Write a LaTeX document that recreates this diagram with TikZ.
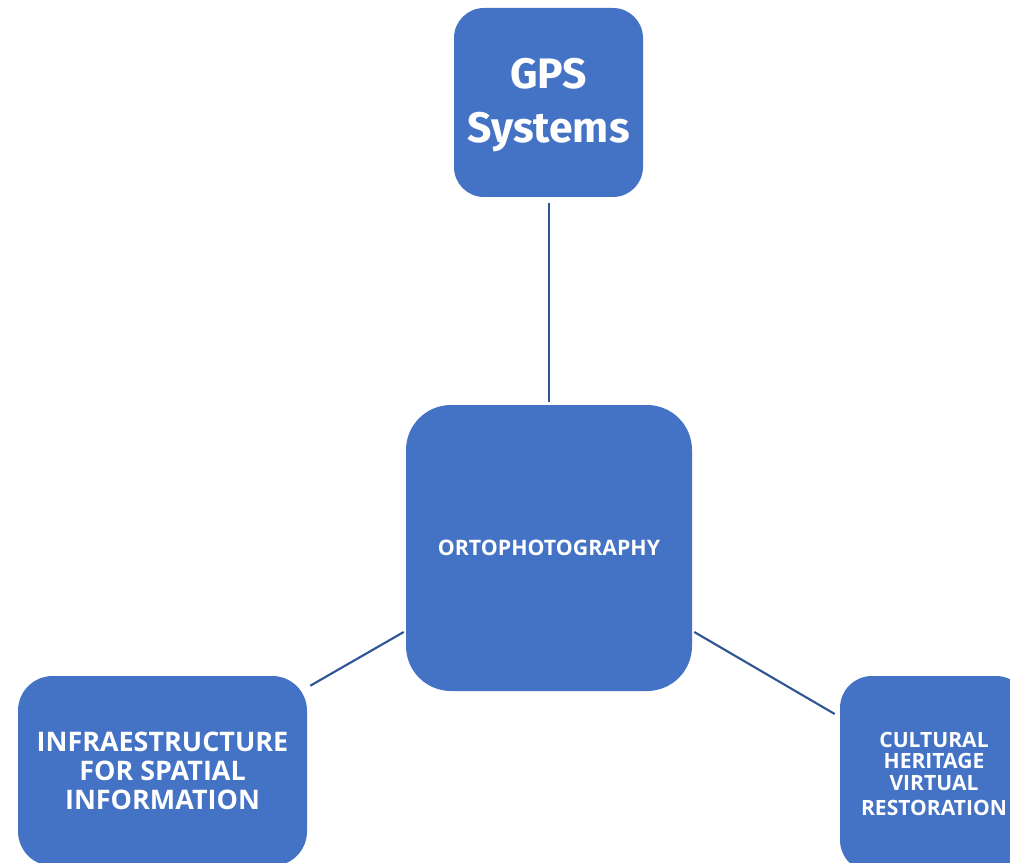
\documentclass[tikz,border=0pt]{standalone}
\usepackage{fontspec}
\setmainfont{Open Sans}
\newfontfamily\gpsfont{Fira Sans}
\definecolor{boxblue}{HTML}{4472C4}
\definecolor{lineblue}{HTML}{2F5597}
\begin{document}
\begin{tikzpicture}[x=0.75pt,y=-0.75pt,
  box/.style={fill=boxblue, draw=none, inner sep=0pt, text=white, align=center, font=\bfseries},
  link/.style={draw=lineblue, line width=1.6pt}]
\useasboundingbox (0,0) rectangle (1010,863);
\clip (0,0) rectangle (1010,863);
\node[box, minimum width=141.75pt, minimum height=141.75pt, rounded corners=22.5pt] (gps) at (548.5,102.5) {};
\node[text=white, align=center, inner sep=0pt, font=\gpsfont\bfseries\fontsize{32}{41}\selectfont] (gpstext) at ([shift={(0,2.5)}]gps.center) {GPS\\Systems};
\node[box, minimum width=214.5pt, minimum height=214.5pt, rounded corners=33.75pt,
  font=\bfseries\fontsize{16}{18}\selectfont] (ctr) at (549,548) {ORTOPHOTOGRAPHY};
\node[box, minimum width=216.75pt, minimum height=142.5pt, rounded corners=26pt,
  font=\bfseries\fontsize{20.2}{21.8}\selectfont] (left) at (162.5,771) {INFRAESTRUCTURE\\FOR SPATIAL\\INFORMATION};
\node[box, minimum width=141pt, minimum height=147pt, rounded corners=24pt,
  font=\bfseries\fontsize{15.8}{15.8}\selectfont] (right) at (934,774) {CULTURAL\\HERITAGE\\VIRTUAL\\[3pt]RESTORATION};
\draw[link] ([shift={(0.5,6)}]gps.south) -- ([shift={(0,-3)}]ctr.north);
\draw[link] ([shift={(-2,84)}]ctr.west) -- ([shift={(3,10)}]left.north east);
\draw[link] ([shift={(2,84)}]ctr.east) -- ([shift={(-5,-60)}]right.west);
\end{tikzpicture}
\end{document}
